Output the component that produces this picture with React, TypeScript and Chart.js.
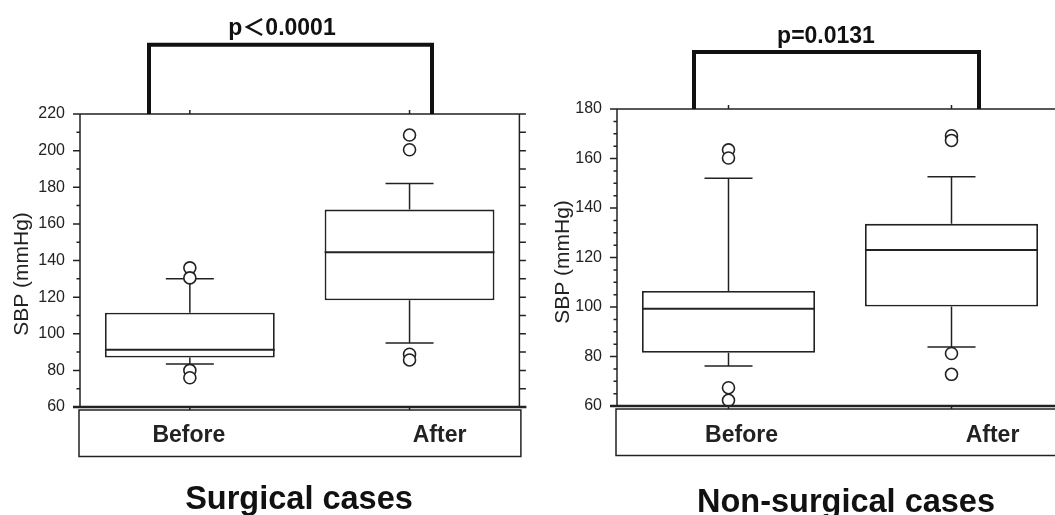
import React, { useEffect, useRef } from 'react';
import { Chart, registerables } from 'chart.js';

Chart.register(...registerables);

const categories = ['Before', 'After'];

// Surgical cases (SBP, mmHg)
const surgQ1 = [87, 118.3];
const surgMedian = [91.3, 144.5];
const surgQ3 = [111.5, 167.8];
const surgWhiskerLow = [83.5, 95];
const surgWhiskerHigh = [130, 182];
const surgOutliersBefore = [136, 130.5, 80, 76];
const surgOutliersAfter = [208.5, 200.5, 88.8, 85.7];
const surgTicks = [60, 80, 100, 120, 140, 160, 180, 200, 220];
const surgPText = 'p＜0.0001';
const surgTitle = 'Surgical cases';

// Non-surgical cases (SBP, mmHg)
const nonQ1 = [81.5, 100.2];
const nonMedian = [99.3, 123];
const nonQ3 = [106.5, 133.6];
const nonWhiskerLow = [76.2, 83.8];
const nonWhiskerHigh = [152, 152.6];
const nonOutliersBefore = [163.5, 160.2, 67.4, 62.3];
const nonOutliersAfter = [169.2, 167.3, 81.2, 72.8];
const nonTicks = [60, 80, 100, 120, 140, 160, 180];
const nonPText = 'p=0.0131';
const nonTitle = 'Non-surgical cases';

const yTitle = 'SBP (mmHg)';

const FONT = "'Liberation Sans', Arial, Helvetica, 'Noto Sans CJK JP', sans-serif";
const INK = '#222';

const decor = {
  id: 'decor',
  beforeDatasetsDraw(chart: any, _a: any, o: any) {
    const { ctx } = chart;
    const xs = chart.scales.x;
    const ys = chart.scales.y;
    ctx.save();
    ctx.strokeStyle = INK;
    ctx.lineWidth = 1.5;
    o.q3.forEach((_: number, i: number) => {
      const x = xs.getPixelForValue(i);
      const yq3 = ys.getPixelForValue(o.q3[i]);
      const yq1 = ys.getPixelForValue(o.q1[i]);
      const yh = ys.getPixelForValue(o.wHigh[i]);
      const yl = ys.getPixelForValue(o.wLow[i]);
      ctx.beginPath();
      ctx.moveTo(x, yq3); ctx.lineTo(x, yh);
      ctx.moveTo(x - o.capHalf, yh); ctx.lineTo(x + o.capHalf, yh);
      ctx.moveTo(x, yq1); ctx.lineTo(x, yl);
      ctx.moveTo(x - o.capHalf, yl); ctx.lineTo(x + o.capHalf, yl);
      ctx.stroke();
    });
    ctx.restore();
  },
  afterDatasetsDraw(chart: any, _a: any, o: any) {
    const { ctx } = chart;
    const ys = chart.scales.y;
    const meta = chart.getDatasetMeta(0);
    ctx.save();
    ctx.strokeStyle = INK;
    ctx.lineWidth = 2;
    meta.data.forEach((bar: any, i: number) => {
      const { x, width } = bar.getProps(['x', 'width'], true);
      const y = ys.getPixelForValue(o.median[i]);
      ctx.beginPath();
      ctx.moveTo(x - width / 2, y);
      ctx.lineTo(x + width / 2, y);
      ctx.stroke();
    });
    ctx.restore();
  },
  afterDraw(chart: any, _a: any, o: any) {
    const { ctx, chartArea: ca } = chart;
    const xs = chart.scales.x;
    const ys = chart.scales.y;
    ctx.save();
    ctx.strokeStyle = INK;
    ctx.lineWidth = 1.5;
    // left axis
    ctx.beginPath();
    ctx.moveTo(ca.left, ca.top); ctx.lineTo(ca.left, ca.bottom);
    for (let v = o.min; v <= o.max + 1e-6; v += o.minorStep) {
      const y = ys.getPixelForValue(v);
      const major = Math.abs(v % o.majorStep) < 1e-6;
      ctx.moveTo(ca.left - (major ? 7 : 3.5), y); ctx.lineTo(ca.left, y);
    }
    // right axis
    ctx.moveTo(ca.right, ca.top); ctx.lineTo(ca.right, ca.bottom);
    for (let v = o.min; v <= o.max + 1e-6; v += o.rightStep) {
      const y = ys.getPixelForValue(v);
      ctx.moveTo(ca.right, y); ctx.lineTo(ca.right + 6.5, y);
    }
    // top line + category ticks
    ctx.moveTo(ca.left - 7, ca.top); ctx.lineTo(ca.right + 6.5, ca.top);
    categories.forEach((_, i) => {
      const x = xs.getPixelForValue(i);
      ctx.moveTo(x, ca.top); ctx.lineTo(x, ca.top - 4);
      ctx.moveTo(x, ca.bottom); ctx.lineTo(x, ca.bottom + 3);
    });
    ctx.stroke();
    // bottom line
    ctx.lineWidth = 2.5;
    ctx.beginPath();
    ctx.moveTo(ca.left - 7, ca.bottom); ctx.lineTo(ca.right + 7, ca.bottom);
    ctx.stroke();
    // category label box
    ctx.lineWidth = 1.5;
    ctx.strokeRect(ca.left - 1, ca.bottom + 3, ca.right - ca.left + 2.5, 46.5);
    ctx.fillStyle = INK;
    ctx.font = `bold 23px ${FONT}`;
    ctx.textAlign = 'center';
    ctx.textBaseline = 'alphabetic';
    categories.forEach((c, i) => {
      ctx.fillText(c, xs.getPixelForValue(i) + o.labelOffsets[i], o.labelBaseline);
    });
    // significance bracket
    ctx.strokeStyle = '#111';
    ctx.lineWidth = 4;
    ctx.lineJoin = 'miter';
    ctx.beginPath();
    ctx.moveTo(o.bracket.xl, ca.top);
    ctx.lineTo(o.bracket.xl, o.bracket.y);
    ctx.lineTo(o.bracket.xr, o.bracket.y);
    ctx.lineTo(o.bracket.xr, ca.top);
    ctx.stroke();
    ctx.fillStyle = '#111';
    ctx.font = `bold 23px ${FONT}`;
    ctx.fillText(o.pText, o.pX, o.pBaseline);
    // panel title
    ctx.font = `bold ${o.titleSize}px ${FONT}`;
    ctx.fillText(o.title, o.titleX, o.titleBaseline);
    // y axis title
    ctx.fillStyle = INK;
    ctx.font = `21px ${FONT}`;
    ctx.translate(o.yTitleX, o.yTitleY);
    ctx.rotate(-Math.PI / 2);
    ctx.textBaseline = 'middle';
    ctx.fillText(yTitle, 0, 0);
    ctx.restore();
  },
};

type Panel = {
  width: number;
  height: number;
  q1: number[];
  median: number[];
  q3: number[];
  wLow: number[];
  wHigh: number[];
  outliers: number[][];
  ticks: number[];
  minorStep: number;
  rightStep: number;
  pText: string;
  title: string;
  titleSize: number;
  titleX: number;
  titleBaseline: number;
  pX: number;
  pBaseline: number;
  bracket: { xl: number; xr: number; y: number };
  labelOffsets: number[];
  yTitleX: number;
  yTitleY: number;
  yWidth: number;
  padding: { left: number; right: number; top: number; bottom: number };
  barPct: number;
};

function makeConfig(p: Panel): any {
  const min = p.ticks[0];
  const max = p.ticks[p.ticks.length - 1];
  const outlierPoints = p.outliers.flatMap((arr, i) => arr.map((y) => ({ x: categories[i], y })));
  return {
    type: 'bar',
    data: {
      labels: categories,
      datasets: [
        {
          type: 'bar',
          data: categories.map((_, i) => [p.q1[i], p.q3[i]]),
          backgroundColor: '#ffffff',
          borderColor: INK,
          borderWidth: 1.8,
          borderSkipped: false,
          barPercentage: p.barPct,
          categoryPercentage: 1,
          order: 2,
        },
        {
          type: 'line',
          data: outlierPoints,
          showLine: false,
          pointRadius: 6,
          pointHoverRadius: 6,
          pointBackgroundColor: '#ffffff',
          pointBorderColor: INK,
          pointBorderWidth: 1.6,
          clip: false,
          order: 1,
        },
      ],
    },
    options: {
      responsive: false,
      animation: false,
      devicePixelRatio: 1,
      layout: { padding: p.padding },
      plugins: {
        legend: { display: false },
        tooltip: { enabled: false },
        decor: {
          q1: p.q1,
          q3: p.q3,
          median: p.median,
          wLow: p.wLow,
          wHigh: p.wHigh,
          capHalf: 24,
          min,
          max,
          majorStep: 20,
          minorStep: p.minorStep,
          rightStep: p.rightStep,
          labelOffsets: p.labelOffsets,
          labelBaseline: 441.5,
          bracket: p.bracket,
          pText: p.pText,
          pX: p.pX,
          pBaseline: p.pBaseline,
          title: p.title,
          titleSize: p.titleSize,
          titleX: p.titleX,
          titleBaseline: p.titleBaseline,
          yTitleX: p.yTitleX,
          yTitleY: p.yTitleY,
        },
      },
      scales: {
        x: {
          type: 'category',
          offset: true,
          grid: { display: false, drawTicks: false },
          border: { display: false },
          ticks: { display: false },
          afterFit: (s: any) => {
            s.height = 50;
          },
        },
        y: {
          min,
          max,
          grid: { display: false, drawTicks: false },
          border: { display: false },
          ticks: {
            color: INK,
            padding: 15,
            font: { family: FONT, size: 16 },
          },
          afterBuildTicks: (s: any) => {
            s.ticks = p.ticks.map((v) => ({ value: v }));
          },
          afterFit: (s: any) => {
            s.width = p.yWidth;
          },
        },
      },
    },
    plugins: [decor],
  };
}

const surgPanel: Panel = {
  width: 527,
  height: 515,
  q1: surgQ1,
  median: surgMedian,
  q3: surgQ3,
  wLow: surgWhiskerLow,
  wHigh: surgWhiskerHigh,
  outliers: [surgOutliersBefore, surgOutliersAfter],
  ticks: surgTicks,
  minorStep: 10,
  rightStep: 10,
  pText: surgPText,
  title: surgTitle,
  titleSize: 32.5,
  titleX: 299,
  titleBaseline: 509,
  pX: 282,
  pBaseline: 35,
  bracket: { xl: 149, xr: 432, y: 44.7 },
  labelOffsets: [-1, 30],
  yTitleX: 22,
  yTitleY: 274,
  yWidth: 80,
  padding: { left: 0, right: 7, top: 114, bottom: 58 },
  barPct: 0.773,
};

const nonPanel: Panel = {
  width: 545,
  height: 515,
  q1: nonQ1,
  median: nonMedian,
  q3: nonQ3,
  wLow: nonWhiskerLow,
  wHigh: nonWhiskerHigh,
  outliers: [nonOutliersBefore, nonOutliersAfter],
  ticks: nonTicks,
  minorStep: 5,
  rightStep: 5,
  pText: nonPText,
  title: nonTitle,
  titleSize: 32.5,
  titleX: 319,
  titleBaseline: 512,
  pX: 299,
  pBaseline: 42.5,
  bracket: { xl: 167, xr: 452, y: 52 },
  labelOffsets: [13, 41],
  yTitleX: 36,
  yTitleY: 262,
  yWidth: 90,
  padding: { left: 0, right: 9, top: 109, bottom: 59 },
  barPct: 0.776,
};

function BoxPanel({ panel, left }: { panel: Panel; left: number }) {
  const ref = useRef<HTMLCanvasElement | null>(null);
  useEffect(() => {
    if (!ref.current) return;
    const chart = new Chart(ref.current, makeConfig(panel));
    return () => chart.destroy();
  }, [panel]);
  return (
    <div style={{ position: 'absolute', left, top: 0, width: panel.width, height: panel.height }}>
      <canvas ref={ref} width={panel.width} height={panel.height} style={{ display: 'block' }} />
    </div>
  );
}

export default function App() {
  return (
    <div
      style={{
        position: 'absolute',
        left: 0,
        top: 0,
        width: 1055,
        height: 515,
        overflow: 'hidden',
        background: '#ffffff',
      }}
    >
      <BoxPanel panel={surgPanel} left={0} />
      <BoxPanel panel={nonPanel} left={527} />
    </div>
  );
}
